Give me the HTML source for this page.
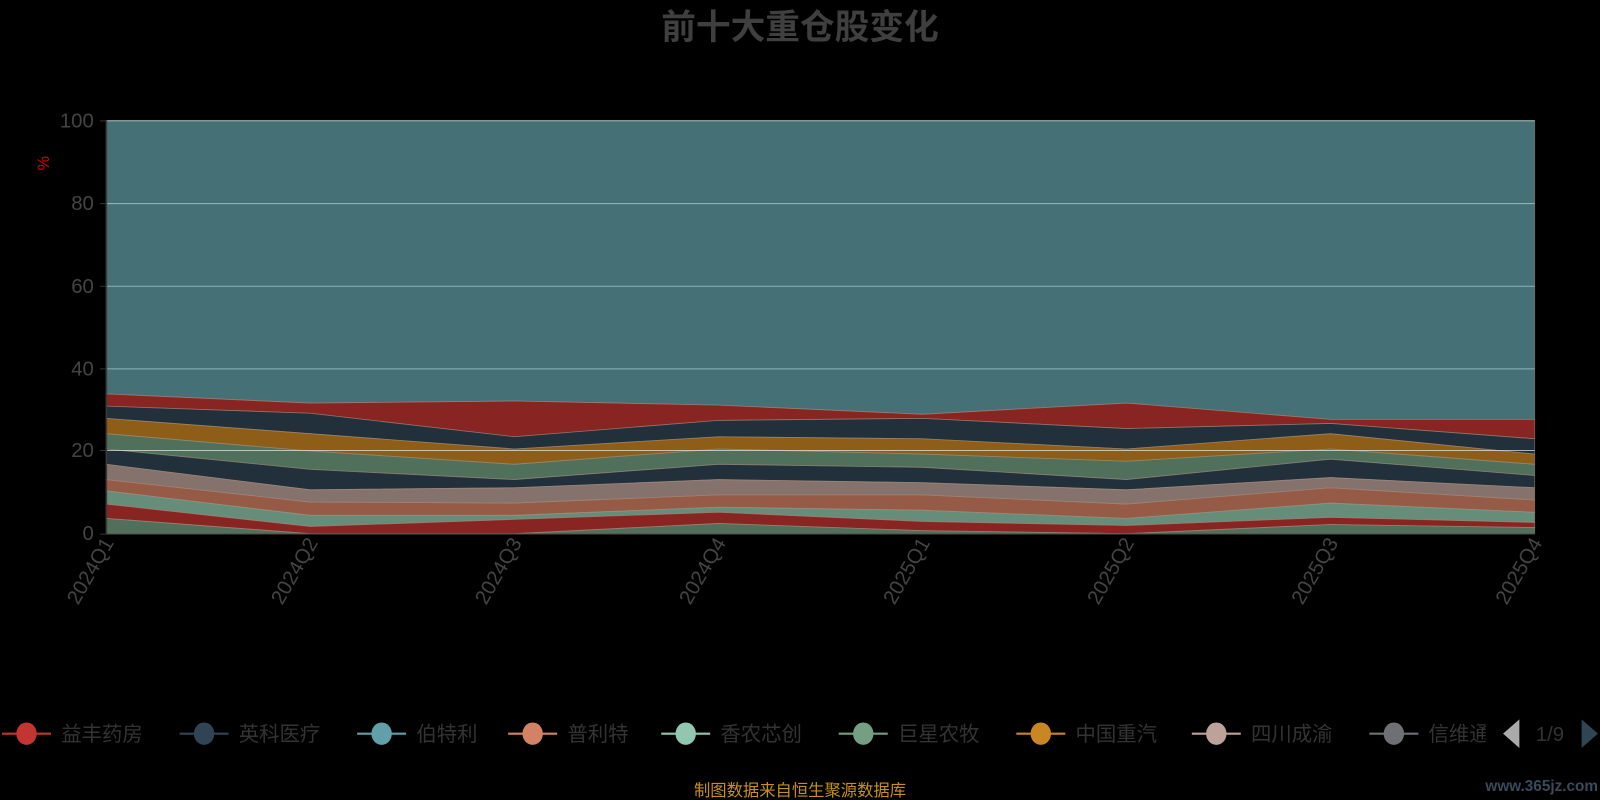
<!DOCTYPE html>
<html><head><meta charset="utf-8"><style>
html,body{margin:0;padding:0;background:#000;}
svg{display:block;font-family:"Liberation Sans","Noto Sans CJK SC",sans-serif;}
</style></head><body>
<svg width="1600" height="800" viewBox="0 0 1600 800">
<rect width="1600" height="800" fill="#000"/>
<g transform="scale(1.0204)">
<text x="784" y="38" text-anchor="middle" font-size="34" font-weight="bold" fill="#3f3f3f">前十大重仓股变化</text>
<text x="0" y="0" transform="translate(48,160) rotate(-90)" text-anchor="middle" font-size="16" fill="#d00">%</text>
<g fill-opacity="0.7" stroke="#a08c7c" stroke-width="0.8" stroke-opacity="0.6">
<polygon fill="#61a0a8" points="104,118 304,118 504,118 704,118 904,118 1104,118 1304,118 1504,118 1504,411 1304,411 1104,395 904,406 704,397 504,393 304,395 104,386"/>
<polygon fill="#c23531" points="104,386 304,395 504,393 704,397 904,406 1104,395 1304,411 1504,411 1504,430 1304,415 1104,420 904,410 704,412 504,428 304,405 104,398"/>
<polygon fill="#2f4554" points="104,398 304,405 504,428 704,412 904,410 1104,420 1304,415 1504,430 1504,445 1304,425 1104,440 904,430 704,428 504,440 304,425 104,410"/>
<polygon fill="#ca8622" points="104,410 304,425 504,440 704,428 904,430 1104,440 1304,425 1504,445 1504,455 1304,440 1104,452 904,445 704,440 504,455 304,442 104,425"/>
<polygon fill="#749f83" points="104,425 304,442 504,455 704,440 904,445 1104,452 1304,440 1504,455 1504,466 1304,450 1104,470 904,458 704,455 504,470 304,460 104,440"/>
<polygon fill="#2f4554" points="104,440 304,460 504,470 704,455 904,458 1104,470 1304,450 1504,466 1504,478 1304,468 1104,480 904,473 704,470 504,478 304,480 104,455"/>
<polygon fill="#bda29a" points="104,455 304,480 504,478 704,470 904,473 1104,480 1304,468 1504,478 1504,490 1304,478 1104,494 904,485 704,485 504,493 304,492 104,470"/>
<polygon fill="#d48265" points="104,470 304,492 504,493 704,485 904,485 1104,494 1304,478 1504,490 1504,502 1304,493 1104,508 904,500 704,497 504,505 304,505 104,481"/>
<polygon fill="#91c7ae" points="104,481 304,505 504,505 704,497 904,500 1104,508 1304,493 1504,502 1504,512 1304,507 1104,515 904,511 704,502 504,509 304,516 104,494"/>
<polygon fill="#c23531" points="104,494 304,516 504,509 704,502 904,511 1104,515 1304,507 1504,512 1504,517 1304,514 1104,523 904,520 704,513 504,523 304,523 104,508"/>
<polygon fill="#749f83" points="104,508 304,523 504,523 704,513 904,520 1104,523 1304,514 1504,517 1504,523 104,523"/>
</g>
<g stroke="#a8d0d0" stroke-opacity="0.7" stroke-width="1">
<line x1="104" y1="118.5" x2="1504" y2="118.5"/>
<line x1="104" y1="199.5" x2="1504" y2="199.5"/>
<line x1="104" y1="280.5" x2="1504" y2="280.5"/>
<line x1="104" y1="361.5" x2="1504" y2="361.5"/>
<line x1="104" y1="441.5" x2="1504" y2="441.5" stroke="#e8e8e8"/>
</g>
<line x1="104.5" y1="118" x2="104.5" y2="523" stroke="#333"/>
<line x1="104" y1="523.5" x2="1504" y2="523.5" stroke="#333"/>
<g fill="#444" font-size="20" text-anchor="end">
<text x="92" y="125">100</text><text x="92" y="206">80</text><text x="92" y="287">60</text><text x="92" y="368">40</text><text x="92" y="448">20</text><text x="92" y="529">0</text>
</g>
<g stroke="#333"><line x1="98" y1="118.5" x2="104" y2="118.5"/><line x1="98" y1="199.5" x2="104" y2="199.5"/><line x1="98" y1="280.5" x2="104" y2="280.5"/><line x1="98" y1="361.5" x2="104" y2="361.5"/><line x1="98" y1="441.5" x2="104" y2="441.5"/><line x1="98" y1="523.5" x2="104" y2="523.5"/></g>
<g fill="#444" font-size="20" text-anchor="end">
<text transform="translate(112,532) rotate(-60)">2024Q1</text>
<text transform="translate(312,532) rotate(-60)">2024Q2</text>
<text transform="translate(512,532) rotate(-60)">2024Q3</text>
<text transform="translate(712,532) rotate(-60)">2024Q4</text>
<text transform="translate(912,532) rotate(-60)">2025Q1</text>
<text transform="translate(1112,532) rotate(-60)">2025Q2</text>
<text transform="translate(1312,532) rotate(-60)">2025Q3</text>
<text transform="translate(1512,532) rotate(-60)">2025Q4</text>
</g>
<g font-size="20" fill="#333">
<g><line x1="2" y1="719" x2="50" y2="719" stroke="#c23531" stroke-width="2"/><ellipse cx="26" cy="719" rx="10" ry="11" fill="#c23531"/><text x="60" y="726">益丰药房</text></g>
<g><line x1="176" y1="719" x2="224" y2="719" stroke="#2f4554" stroke-width="2"/><ellipse cx="200" cy="719" rx="10" ry="11" fill="#2f4554"/><text x="234" y="726">英科医疗</text></g>
<g><line x1="350" y1="719" x2="398" y2="719" stroke="#61a0a8" stroke-width="2"/><ellipse cx="374" cy="719" rx="10" ry="11" fill="#61a0a8"/><text x="408" y="726">伯特利</text></g>
<g><line x1="498" y1="719" x2="546" y2="719" stroke="#d48265" stroke-width="2"/><ellipse cx="522" cy="719" rx="10" ry="11" fill="#d48265"/><text x="556" y="726">普利特</text></g>
<g><line x1="648" y1="719" x2="696" y2="719" stroke="#91c7ae" stroke-width="2"/><ellipse cx="672" cy="719" rx="10" ry="11" fill="#91c7ae"/><text x="706" y="726">香农芯创</text></g>
<g><line x1="822" y1="719" x2="870" y2="719" stroke="#749f83" stroke-width="2"/><ellipse cx="846" cy="719" rx="10" ry="11" fill="#749f83"/><text x="880" y="726">巨星农牧</text></g>
<g><line x1="996" y1="719" x2="1044" y2="719" stroke="#ca8622" stroke-width="2"/><ellipse cx="1020" cy="719" rx="10" ry="11" fill="#ca8622"/><text x="1054" y="726">中国重汽</text></g>
<g><line x1="1168" y1="719" x2="1216" y2="719" stroke="#bda29a" stroke-width="2"/><ellipse cx="1192" cy="719" rx="10" ry="11" fill="#bda29a"/><text x="1226" y="726">四川成渝</text></g>
<g><line x1="1342" y1="719" x2="1390" y2="719" stroke="#6e7074" stroke-width="2"/><ellipse cx="1366" cy="719" rx="10" ry="11" fill="#6e7074"/><text x="1400" y="726">信维通</text></g>
</g>
<rect x="1456" y="700" width="144" height="40" fill="#000"/>
<polygon points="1473,719 1489,705 1489,733" fill="#aaa"/>
<text x="1519" y="726" text-anchor="middle" font-size="20" fill="#333">1/9</text>
<polygon points="1566,719 1550,705 1550,733" fill="#2f4554"/>
<text x="784" y="780" text-anchor="middle" font-size="16" fill="#c8901a">制图数据来自恒生聚源数据库</text>
<text x="1566" y="775" text-anchor="end" font-size="15" font-weight="bold" fill="#3a4a5a">www.365jz.com</text>
</g>
</svg>
</body></html>
